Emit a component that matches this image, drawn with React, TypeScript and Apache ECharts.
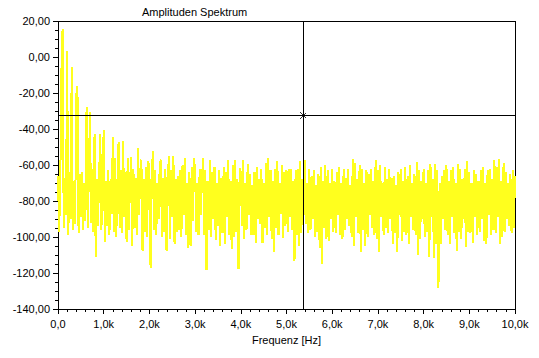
import React, { useEffect, useRef } from "react";
import * as echarts from "echarts";

// Frequency resolution of the spectrum (Hz between two samples)
const STEP_HZ = 25;

// Spectrum levels (dB), 40 samples per kHz band
const band0k = [-66, -97, -70, -8, 15.5, -95, -67, -88, 3.4, -99, -64, -90, -5.5, -96, -69, -93, -20.8, -16, -98, -65, -89, -64, -96, -70, -91, -28, -95, -66, -30.3, -92, -62, -97, -43, -111, -68, -94, -66, -43, -96, -64];
const band1k = [-40.6, -103, -69, -94, -63, -99, -68, -87, -44.7, -97, -56, -100, -70, -47.4, -95, -63, -98, -46.7, -89, -64, -102.5, -56, -96, -71, -55.8, -105, -62, -95, -67, -99, -50.8, -88, -63, -57, -108, -68, -97, -61, -100, -58];
const band2k = [-62, -117, -69, -52, -96, -63, -99, -70, -90, -61, -57, -100, -67, -97, -62, -108, -71, -55, -101, -63, -89, -55, -104, -68, -97, -66, -96, -63, -100, -60, -88, -56, -99, -70, -106, -64, -105, -61, -91, -56];
const band3k = [-63, -97, -70, -99, -62, -88, -68, -56, -98.7, -63, -118.6, -69, -96, -57, -100, -64, -90, -61, -101.5, -70, -94, -63, -105, -67, -98, -61, -104, -64, -89, -57.5, -99, -69, -106.5, -60, -100, -57, -97, -68, -118, -62];
const band4k = [-64, -94, -57.5, -101, -70, -96, -59.5, -88, -65, -99, -71, -98.7, -64, -103.6, -61, -90, -68, -93, -62, -103.6, -70, -95, -59, -99, -56.3, -89, -63, -101, -69, -108.6, -62, -95, -58, -99, -70, -87, -60, -100.5, -64, -94];
const band5k = [-63, -97, -62.5, -89, -62.5, -96, -69, -113.6, -63, -99, -62, -105, -58, -98, -68, -88, -57, -93, -70, -98, -62, -96, -66, -90, -63, -100, -71, -97, -65, -106, -61, -115, -69, -95, -60, -101, -63, -102, -70, -90];
const band6k = [-62, -97, -69, -98, -64, -88, -61, -99, -70, -101, -62, -96, -67, -90, -62, -94, -71, -100, -56.6, -105, -59, -89, -68, -98, -60, -108.6, -62, -96, -70, -105, -63, -100, -65, -88, -62, -95, -69, -99, -57, -101];
const band7k = [-63, -108.6, -60, -89, -70, -99, -61, -95, -68, -98, -62, -90, -67, -104, -66, -98, -71, -108.6, -64, -88, -62, -102, -69, -97, -61, -99, -66, -104, -60, -89, -70, -96, -65, -99, -58.5, -110, -63, -101, -69, -90];
const band8k = [-62, -100, -70, -97, -63, -111, -59.6, -89, -68, -111.5, -59.6, -104, -63, -128.5, -70, -104, -66, -90, -63, -96, -60, -99, -69, -104, -63, -89, -61, -98, -70, -108, -59.6, -97, -62, -101, -68, -90, -62, -105.5, -58, -97];
const band9k = [-64, -98, -70, -103.5, -63, -89, -65, -99, -69, -97, -63, -90, -61, -102, -70, -104, -63, -88, -62, -99, -68, -96, -57, -98, -61, -89, -56.5, -104, -69, -100, -59, -97, -64, -90, -70, -94, -65, -98, -63, -95, -66];

// Cursor (crosshair) position
const cursorFreq = [5370];
const cursorLevel = [-32.5];

// Axis ticks
const xTicks = [0, 1000, 2000, 3000, 4000, 5000, 6000, 7000, 8000, 9000, 10000];
const yTicks = [20, 0, -20, -40, -60, -80, -100, -120, -140];

const FONT = "Liberation Sans";

export default function App() {
  const ref = useRef<HTMLDivElement>(null);

  useEffect(() => {
    if (!ref.current) return;
    const chart = echarts.init(ref.current, undefined, { renderer: "svg" });
    const levels = [
      ...band0k, ...band1k, ...band2k, ...band3k, ...band4k,
      ...band5k, ...band6k, ...band7k, ...band8k, ...band9k,
    ];
    const data = levels.map((v, i) => [i * STEP_HZ, v]);
    const xMin = xTicks[0];
    const xMax = xTicks[xTicks.length - 1];
    const yMax = yTicks[0];
    const yMin = yTicks[yTicks.length - 1];

    chart.setOption({
      animation: false,
      textStyle: { fontFamily: FONT },
      title: {
        text: "Amplituden Spektrum",
        left: 142,
        top: 6,
        padding: 0,
        textStyle: { fontSize: 11, fontWeight: "normal", color: "#000", fontFamily: FONT },
      },
      grid: {
        left: 58,
        top: 21,
        right: 24,
        bottom: 49,
        show: true,
        borderColor: "#000",
        borderWidth: 1,
        backgroundColor: "transparent",
      },
      xAxis: {
        type: "value",
        min: xMin,
        max: xMax,
        interval: 1000,
        name: "Frequenz [Hz]",
        nameLocation: "middle",
        nameGap: 25,
        nameTextStyle: { fontSize: 11, color: "#000", fontFamily: FONT },
        axisLine: { show: true, onZero: false, lineStyle: { color: "#000", width: 1 } },
        axisTick: { show: true, length: 5, lineStyle: { color: "#000" } },
        minorTick: { show: true, splitNumber: 5, length: 3, lineStyle: { color: "#000" } },
        splitLine: { show: false },
        axisLabel: {
          margin: 9,
          fontSize: 11,
          color: "#000",
          fontFamily: FONT,
          formatter: (v: number) =>
            (v / 1000).toFixed(1).replace(".", ",") + (v === 0 ? "" : "k"),
        },
      },
      yAxis: {
        type: "value",
        min: yMin,
        max: yMax,
        interval: 20,
        axisLine: { show: true, onZero: false, lineStyle: { color: "#000", width: 1 } },
        axisTick: { show: true, length: 5, lineStyle: { color: "#000" } },
        minorTick: { show: true, splitNumber: 4, length: 3, lineStyle: { color: "#000" } },
        splitLine: { show: false },
        axisLabel: {
          margin: 8,
          fontSize: 11,
          color: "#000",
          fontFamily: FONT,
          formatter: (v: number) => v.toFixed(2).replace(".", ","),
        },
      },
      series: [
        {
          type: "line",
          data,
          showSymbol: false,
          symbol: "none",
          silent: true,
          lineStyle: { color: "#ffff1e", width: 2 },
          markLine: {
            silent: true,
            symbol: ["none", "none"],
            label: { show: false },
            lineStyle: { color: "#000", width: 1, type: "solid" },
            data: [{ xAxis: cursorFreq[0] }, { yAxis: cursorLevel[0] }],
          },
        },
        {
          type: "scatter",
          data: [[cursorFreq[0], cursorLevel[0]]],
          symbol: "path://M0,0L6,6M6,0L0,6",
          symbolSize: 6,
          silent: true,
          itemStyle: { color: "none", borderColor: "#000", borderWidth: 1 },
          z: 10,
        },
      ],
    });
    return () => chart.dispose();
  }, []);

  return (
    <>
      <style>{`.spectrum-chart svg path { shape-rendering: crispEdges; }`}</style>
      <div
        ref={ref}
        className="spectrum-chart"
        style={{ position: "fixed", left: 0, top: 0, width: 539, height: 358, background: "#fff" }}
      />
    </>
  );
}
